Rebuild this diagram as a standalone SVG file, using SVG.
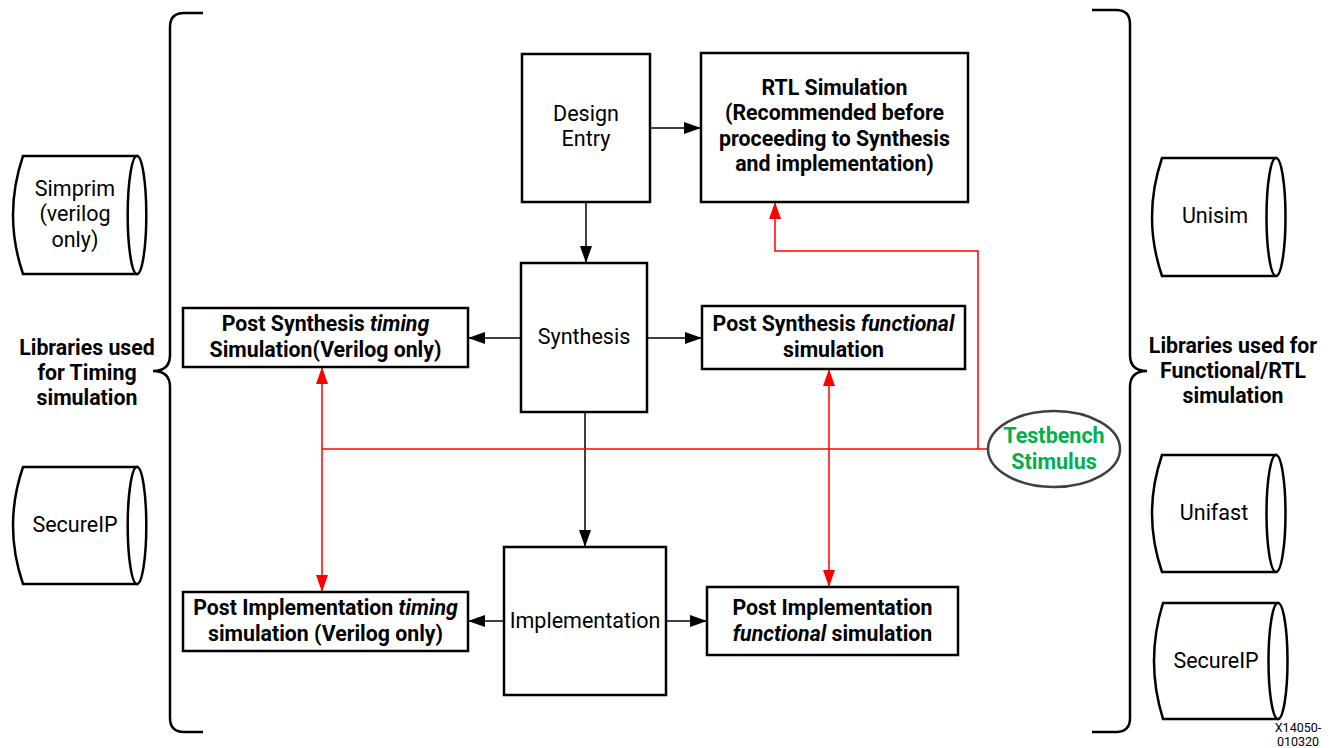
<svg xmlns="http://www.w3.org/2000/svg" width="1333" height="748" viewBox="0 0 1333 748">
<style>
  text { font-family: Roboto, "Liberation Sans", sans-serif; fill: #000; }
  .n { font-size: 21.5px; text-anchor: middle; }
  .b { font-size: 21.3px; font-weight: bold; text-anchor: middle; }
  .i { font-style: italic; }
  .box { fill: #fff; stroke: #000; stroke-width: 2.5; }
  .cyl { fill: #fff; stroke: #000; stroke-width: 2.5; }
  .brace { fill: none; stroke: #000; stroke-width: 2.5; }
  .blk { fill: none; stroke: #000; stroke-width: 1.5; }
  .red { fill: none; stroke: #ff0000; stroke-width: 1.5; }
  .tb { fill: #00b050; font-size: 21.5px; font-weight: bold; text-anchor: middle; }
  .id { font-size: 12.5px; text-anchor: middle; fill: #000; }
</style>
<defs>
  <marker id="ab" markerUnits="userSpaceOnUse" markerWidth="17" markerHeight="12" refX="17" refY="6" orient="auto-start-reverse">
    <path d="M0,0 L17,6 L0,12 Z" fill="#000"/>
  </marker>
  <marker id="ar" markerUnits="userSpaceOnUse" markerWidth="17" markerHeight="12" refX="17" refY="6" orient="auto-start-reverse">
    <path d="M0,0 L17,6 L0,12 Z" fill="#ff0000"/>
  </marker>
</defs>
<rect width="1333" height="748" fill="#fff"/>

<g id="braces">
  <path class="brace" d="M203,13 H184 Q170,13 170,27 V355 Q170,371 153,371 Q170,371 170,387 V718 Q170,732 184,732 H203"/>
  <path class="brace" d="M1092,10 H1116 Q1130,10 1130,24 V355 Q1130,371 1147,371 Q1130,371 1130,387 V718 Q1130,732 1116,732 H1092"/>
</g>

<g id="connectors">
  <line class="blk" x1="650" y1="128" x2="701" y2="128" marker-end="url(#ab)"/>
  <line class="blk" x1="586" y1="202" x2="586" y2="263" marker-end="url(#ab)"/>
  <line class="blk" x1="647" y1="338" x2="702" y2="338" marker-end="url(#ab)"/>
  <line class="blk" x1="521" y1="338" x2="468" y2="338" marker-end="url(#ab)"/>
  <line class="blk" x1="585" y1="412" x2="585" y2="547" marker-end="url(#ab)"/>
  <line class="blk" x1="504" y1="621" x2="468" y2="621" marker-end="url(#ab)"/>
  <line class="blk" x1="666" y1="621" x2="707" y2="621" marker-end="url(#ab)"/>
  <line class="red" x1="322" y1="449" x2="988" y2="449"/>
  <line class="red" x1="322" y1="367" x2="322" y2="592" marker-start="url(#ar)" marker-end="url(#ar)"/>
  <line class="red" x1="829" y1="369" x2="829" y2="587" marker-start="url(#ar)" marker-end="url(#ar)"/>
  <path class="red" d="M978,449 V251 H775 V202" marker-end="url(#ar)"/>
</g>

<g id="design-entry">
  <rect class="box" x="522" y="54" width="128" height="148"/>
  <text class="n" x="586" y="121">Design</text>
  <text class="n" x="586" y="146">Entry</text>
</g>

<g id="rtl-simulation">
  <rect class="box" x="701" y="53" width="267" height="149"/>
  <text class="b" x="834.5" y="95">RTL Simulation</text>
  <text class="b" x="834.5" y="120">(Recommended before</text>
  <text class="b" x="834.5" y="146">proceeding to Synthesis</text>
  <text class="b" x="834.5" y="171">and implementation)</text>
</g>

<g id="synthesis">
  <rect class="box" x="521" y="263" width="126" height="149"/>
  <text class="n" x="584" y="344">Synthesis</text>
</g>

<g id="post-synth-timing">
  <rect class="box" x="183" y="308" width="285" height="59"/>
  <text class="b" x="325.5" y="331">Post Synthesis <tspan class="i">timing</tspan></text>
  <text class="b" x="325.5" y="357">Simulation(Verilog only)</text>
</g>

<g id="post-synth-functional">
  <rect class="box" x="702" y="306" width="263" height="63"/>
  <text class="b" x="833.5" y="331">Post Synthesis <tspan class="i">functional</tspan></text>
  <text class="b" x="833.5" y="357">simulation</text>
</g>

<g id="implementation">
  <rect class="box" x="504" y="547" width="162" height="148"/>
  <text class="n" x="585" y="628">Implementation</text>
</g>

<g id="post-impl-timing">
  <rect class="box" x="183" y="592" width="285" height="59"/>
  <text class="b" x="325.5" y="615">Post Implementation <tspan class="i">timing</tspan></text>
  <text class="b" x="325.5" y="641">simulation (Verilog only)</text>
</g>

<g id="post-impl-functional">
  <rect class="box" x="707" y="587" width="251" height="68"/>
  <text class="b" x="832.5" y="615">Post Implementation</text>
  <text class="b" x="832.5" y="641"><tspan class="i">functional</tspan> simulation</text>
</g>

<g id="testbench">
  <ellipse cx="1054" cy="449" rx="66" ry="38" fill="#fff" stroke="#404040" stroke-width="2.5"/>
  <text class="tb" x="1054" y="443">Testbench</text>
  <text class="tb" x="1054" y="469">Stimulus</text>
</g>

<g id="lib-timing-label">
  <text class="b" x="87" y="355">Libraries used</text>
  <text class="b" x="87" y="380">for Timing</text>
  <text class="b" x="87" y="405">simulation</text>
</g>

<g id="lib-functional-label">
  <text class="b" x="1233" y="353">Libraries used for</text>
  <text class="b" x="1233" y="378">Functional/RTL</text>
  <text class="b" x="1233" y="403">simulation</text>
</g>

<g id="simprim">
  <path class="cyl" d="M23,156 H137 V274 H23 Q3,215 23,156 Z"/>
  <ellipse class="cyl" cx="137" cy="215" rx="9.3" ry="59"/>
  <text class="n" x="75" y="196">Simprim</text>
  <text class="n" x="75" y="221">(verilog</text>
  <text class="n" x="75" y="247">only)</text>
</g>

<g id="secureip-left">
  <path class="cyl" d="M23,467 H137 V584 H23 Q3,525.5 23,467 Z"/>
  <ellipse class="cyl" cx="137" cy="525.5" rx="9.3" ry="58.5"/>
  <text class="n" x="75" y="532">SecureIP</text>
</g>

<g id="unisim">
  <path class="cyl" d="M1162,158 H1276 V276 H1162 Q1142,217 1162,158 Z"/>
  <ellipse class="cyl" cx="1276" cy="217" rx="9.5" ry="59"/>
  <text class="n" x="1215" y="223">Unisim</text>
</g>

<g id="unifast">
  <path class="cyl" d="M1162,455 H1276 V572 H1162 Q1142,513.5 1162,455 Z"/>
  <ellipse class="cyl" cx="1276" cy="513.5" rx="9.5" ry="58.5"/>
  <text class="n" x="1214" y="520">Unifast</text>
</g>

<g id="secureip-right">
  <path class="cyl" d="M1163,603 H1278 V719 H1163 Q1145,661 1163,603 Z"/>
  <ellipse class="cyl" cx="1278" cy="661" rx="9.5" ry="58"/>
  <text class="n" x="1216" y="668">SecureIP</text>
</g>

<g id="figure-id">
  <text class="id" x="1298" y="732">X14050-</text>
  <text class="id" x="1298" y="746">010320</text>
</g>
</svg>
